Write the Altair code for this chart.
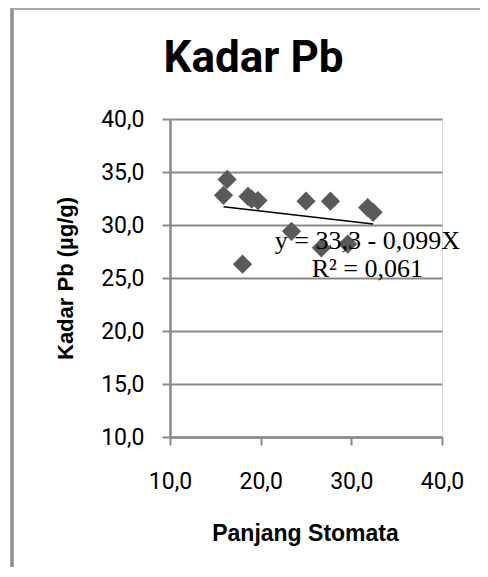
import altair as alt
import pandas as pd

# --- data ---
panjang_stomata = [16.3, 15.9, 18.6, 19.7, 19.0, 25.0, 27.7, 31.8, 32.4, 23.4, 26.7, 29.6, 18.0]
kadar_pb = [34.3, 32.8, 32.7, 32.3, 32.45, 32.25, 32.25, 31.65, 31.2, 29.4, 27.85, 28.2, 26.3]

x_ticks = [10, 20, 30, 40]
y_ticks = [10, 15, 20, 25, 30, 35, 40]

intercept = 33.3
slope = -0.099
equation_text = ["y = 33,3 - 0,099X", "R² = 0,061"]
chart_title = "Kadar Pb"

# label anchor (in data units)
eq_x = 31.77
eq_y = 27.7

pts = pd.DataFrame({"x": panjang_stomata, "y": kadar_pb})
line_x = [min(panjang_stomata), max(panjang_stomata)]
trend = pd.DataFrame({"x": line_x, "y": [intercept + slope * v for v in line_x]})
eq = pd.DataFrame({"x": [eq_x], "y": [eq_y], "t": [equation_text]})
ttl = pd.DataFrame({"t": [chart_title]})

GRID = "#8a8a8a"
label_expr = "replace(format(datum.value, '.1f'), '.', ',')"

xscale = alt.Scale(domain=[10, 40], nice=False, zero=False)
yscale = alt.Scale(domain=[10, 40], nice=False, zero=False)

xaxis = alt.Axis(
    values=x_ticks, labelExpr=label_expr, grid=False, labelFlush=False,
    title="Panjang Stomata", titleFont="Liberation Sans", titleFontWeight="bold",
    titleFontSize=23, titleColor="black", titleX=135, titleY=103,
    titleBaseline="alphabetic", titleAlign="center",
    labelFont="Roboto", labelFontSize=23, labelColor="black", labelPadding=25,
    tickSize=8, tickColor=GRID, tickWidth=2, domainColor=GRID, domainWidth=2.5,
)
yaxis = alt.Axis(
    values=y_ticks, labelExpr=label_expr, grid=True, gridColor=GRID, gridWidth=2,
    labelFlush=False,
    title="Kadar Pb (µg/g)", titleFont="Liberation Sans", titleFontWeight="bold",
    titleFontSize=22, titleColor="black", titleAngle=270, titleX=-105, titleY=159,
    titleBaseline="middle", titleAlign="center",
    labelFont="Roboto", labelFontSize=23, labelColor="black", labelPadding=18,
    tickSize=8, tickColor=GRID, tickWidth=2, domainColor=GRID, domainWidth=2.5,
)

points = alt.Chart(pts).mark_point(
    shape="diamond", filled=True, size=370, color="#595959", opacity=1
).encode(
    x=alt.X("x:Q", scale=xscale, axis=xaxis),
    y=alt.Y("y:Q", scale=yscale, axis=yaxis),
)

trend_line = alt.Chart(trend).mark_line(color="black", strokeWidth=1.6).encode(
    x=alt.X("x:Q", scale=xscale), y=alt.Y("y:Q", scale=yscale)
)

eq_text = alt.Chart(eq).mark_text(
    font="Liberation Serif", fontSize=26, color="black", align="center",
    baseline="alphabetic", lineHeight=27.4
).encode(x=alt.X("x:Q", scale=xscale), y=alt.Y("y:Q", scale=yscale), text="t")

title_text = alt.Chart(ttl).mark_text(
    font="Roboto", fontWeight="bold", fontSize=44,
    color="black", align="center", baseline="alphabetic"
).encode(x=alt.value(83.5), y=alt.value(-47), text="t")

# chart-area frame (decoration)
frame_left = alt.Chart(pts).mark_rule(color="#8f8f8f", strokeWidth=2.2).encode(
    x=alt.value(-158), y=alt.value(-111), y2=alt.value(460)
)
frame_top = alt.Chart(pts).mark_rule(color="#a8a8a8", strokeWidth=1.2).encode(
    x=alt.value(-158), x2=alt.value(330), y=alt.value(-110.4)
)

chart = alt.layer(frame_left, frame_top, title_text, points, trend_line, eq_text).properties(
    width=272, height=318,
    autosize=alt.AutoSizeParams(type="none"),
    padding={"left": 162, "top": 111, "right": 38, "bottom": 130},
).configure_view(stroke=None).configure(background="white")

chart.save("out.html", embed_options={"renderer": "svg", "actions": False})
